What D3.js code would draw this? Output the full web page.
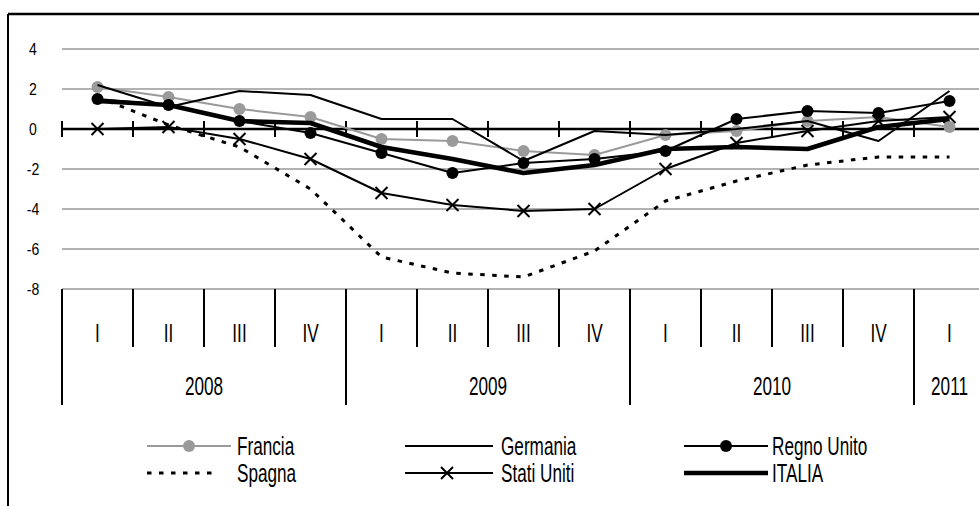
<!DOCTYPE html>
<html><head><meta charset="utf-8">
<script src="https://cdn.jsdelivr.net/npm/d3@7"></script>
<style>html,body{margin:0;padding:0;background:#fff;}svg{display:block;}</style>
</head><body>
<svg id="c" width="979" height="506"></svg>
<script>
const quarters = ["I","II","III","IV","I","II","III","IV","I","II","III","IV","I"];
const years = ["2008","2009","2010","2011"];
const yearCounts = [4,4,4,1];
const yTicks = [4,2,0,-2,-4,-6,-8];

const francia     = [2.1, 1.6, 1.0, 0.6, -0.5, -0.6, -1.1, -1.3, -0.3, -0.1, 0.4, 0.6, 0.1];
const germania    = [2.2, 1.1, 1.9, 1.7, 0.5, 0.5, -1.6, -0.1, -0.3, 0.0, 0.4, -0.6, 1.9];
const regnoUnito  = [1.5, 1.2, 0.4, -0.2, -1.2, -2.2, -1.7, -1.5, -1.1, 0.5, 0.9, 0.8, 1.4];
const spagna      = [1.6, 0.2, -0.9, -3.0, -6.4, -7.2, -7.4, -6.1, -3.6, -2.6, -1.8, -1.4, -1.4];
const statiUniti  = [0.0, 0.1, -0.5, -1.5, -3.2, -3.8, -4.1, -4.0, -2.0, -0.7, -0.1, 0.4, 0.6];
const italia      = [1.4, 1.2, 0.4, 0.3, -0.9, -1.5, -2.2, -1.8, -1.0, -0.9, -1.0, 0.1, 0.5];

const seriesNames = ["Francia","Germania","Regno Unito","Spagna","Stati Uniti","ITALIA"];
const seriesData = [francia, germania, regnoUnito, spagna, statiUniti, italia];
const styles = {
  "Francia":     {color:"#9a9a9a", width:2, marker:"circle", dash:null},
  "Germania":    {color:"#000", width:2, marker:null, dash:null},
  "Regno Unito": {color:"#000", width:2, marker:"circle", dash:null},
  "Spagna":      {color:"#000", width:3, marker:null, dash:"4.5,7.5"},
  "Stati Uniti": {color:"#000", width:2, marker:"x", dash:null},
  "ITALIA":      {color:"#000", width:4.5, marker:null, dash:null}
};

const FONT = "'Liberation Sans', Arial, sans-serif";
const svg = d3.select("#c");
const idx = d3.range(quarters.length);
const x = d3.scaleBand().domain(idx).range([62, 985]).padding(0);
const y = d3.scaleLinear().domain([-8, 4]).range([289, 49]);
const cx = i => x(i) + x.bandwidth()/2;

// frame
svg.append("line").attr("x1",8).attr("x2",979).attr("y1",14).attr("y2",14).attr("stroke","#000").attr("stroke-width",2.5);
svg.append("line").attr("x1",8).attr("x2",8).attr("y1",14).attr("y2",506).attr("stroke","#000").attr("stroke-width",2);

// gridlines
svg.append("g").selectAll("line").data(yTicks.filter(d=>d!==0)).join("line")
  .attr("x1",62).attr("x2",985).attr("y1",d=>y(d)).attr("y2",d=>y(d))
  .attr("stroke","#666").attr("stroke-width",1.2);

// y labels
svg.append("g").selectAll("text").data(yTicks).join("text")
  .attr("transform", d=>`translate(33,${y(d)+6}) scale(0.85,1)`)
  .attr("text-anchor","middle").attr("font-family",FONT).attr("font-size",16.5).attr("fill","#000")
  .text(d=>d);

// category axis at -8: dividers
const yearStarts = [];
{ let s=0; yearCounts.forEach(c=>{ yearStarts.push(s); s+=c; }); }
svg.append("g").selectAll("line").data(idx).join("line")
  .attr("x1",i=>x(i)).attr("x2",i=>x(i)).attr("y1",y(-8))
  .attr("y2",i=>yearStarts.includes(i)?405:347)
  .attr("stroke","#000").attr("stroke-width",2);
// quarter labels
svg.append("g").selectAll("text").data(idx).join("text")
  .attr("transform", i=>`translate(${cx(i)},${333+9.3}) scale(0.66,1)`)
  .attr("text-anchor","middle").attr("font-family",FONT).attr("font-size",26).attr("fill","#000")
  .text(i=>quarters[i]);
// year labels
svg.append("g").selectAll("text").data(years).join("text")
  .attr("transform", (d,k)=>{
    const a = x(yearStarts[k]); const b = x(yearStarts[k]+yearCounts[k]-1)+x.bandwidth();
    return `translate(${(a+b)/2},${386+9.3}) scale(0.66,1)`;})
  .attr("text-anchor","middle").attr("font-family",FONT).attr("font-size",26).attr("fill","#000")
  .text(d=>d);

// zero axis with ticks
svg.append("line").attr("x1",62).attr("x2",985).attr("y1",y(0)).attr("y2",y(0)).attr("stroke","#000").attr("stroke-width",2.5);
svg.append("g").selectAll("line").data(idx).join("line")
  .attr("x1",i=>x(i)).attr("x2",i=>x(i)).attr("y1",y(0)-8).attr("y2",y(0)+8)
  .attr("stroke","#000").attr("stroke-width",2);

// series
const line = d3.line().x((d,i)=>cx(i)).y(d=>y(d));
function drawMarker(g, kind, px, py, st){
  if(kind==="circle"){
    g.append("circle").attr("cx",px).attr("cy",py).attr("r",6).attr("fill",st.color);
  } else if(kind==="x"){
    const s=6;
    g.append("path").attr("d",`M${px-s},${py-s}L${px+s},${py+s}M${px-s},${py+s}L${px+s},${py-s}`)
      .attr("stroke",st.color).attr("stroke-width",2).attr("fill","none");
  }
}
seriesNames.forEach((name,k)=>{
  const st = styles[name];
  const g = svg.append("g");
  const p = g.append("path").datum(seriesData[k]).attr("d",line)
    .attr("fill","none").attr("stroke",st.color).attr("stroke-width",st.width).attr("stroke-linejoin","round");
  if(st.dash) p.attr("stroke-dasharray",st.dash);
  if(st.marker) seriesData[k].forEach((v,i)=>drawMarker(g, st.marker, cx(i), y(v), st));
});

// legend
const legCols = [147, 405, 684];
const legTextOff = [90, 96, 88];
const legRows = [446, 473];
const legOrder = ["Francia","Germania","Regno Unito","Spagna","Stati Uniti","ITALIA"];
legOrder.forEach((name,k)=>{
  const col = k%3, row = Math.floor(k/3);
  const x0 = legCols[col], yy = legRows[row];
  const st = styles[name];
  const g = svg.append("g");
  const len = name==="Spagna" ? 72 : (col===1 ? 88 : 84);
  const l = g.append("line").attr("x1",x0).attr("x2",x0+len).attr("y1",yy).attr("y2",yy)
    .attr("stroke",st.color).attr("stroke-width",st.width);
  if(st.dash) l.attr("stroke-dasharray",st.dash);
  if(st.marker) drawMarker(g, st.marker, x0+42, yy, st);
  g.append("text").attr("transform",`translate(${x0+legTextOff[col]},${yy+9.3}) scale(0.66,1)`)
    .attr("font-family",FONT).attr("font-size",26).attr("fill","#000").text(name);
});
</script>
</body></html>
